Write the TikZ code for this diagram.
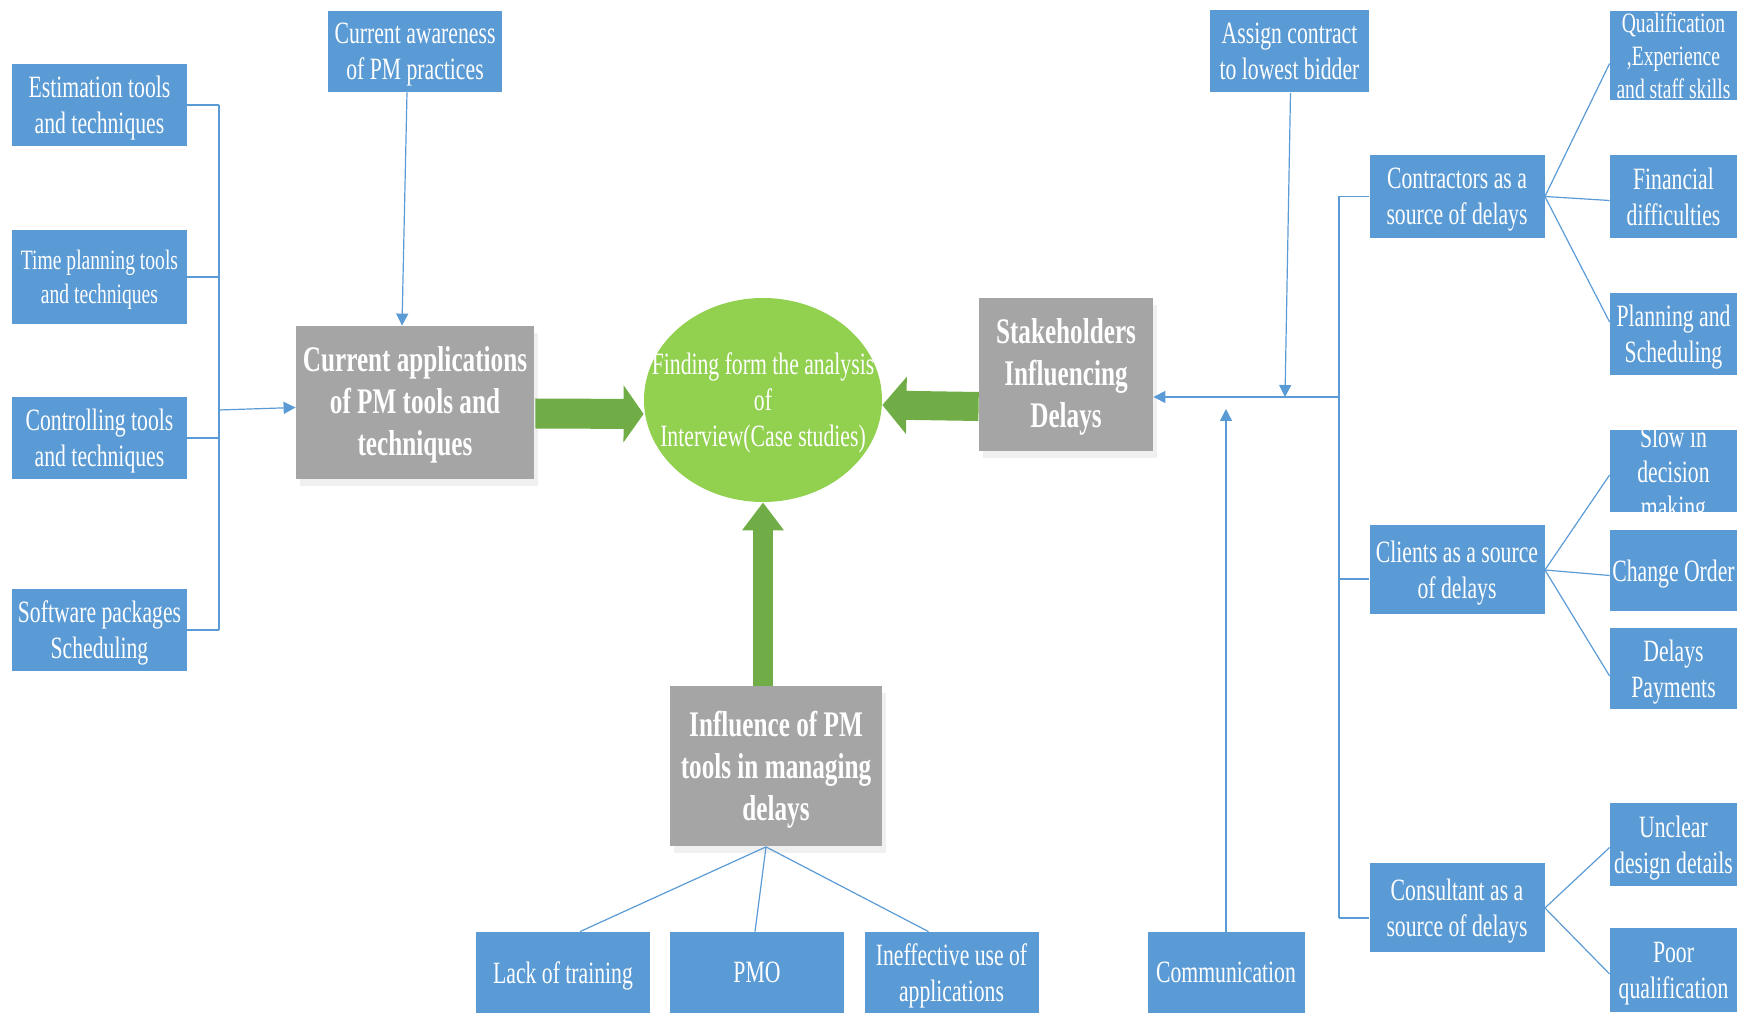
\documentclass[tikz,border=0pt]{standalone}
\usepackage{fontspec}
\setmainfont{Liberation Serif}[FakeStretch=0.7]
\usetikzlibrary{arrows.meta,calc,shapes.geometric,shadows}
\definecolor{boxblue}{HTML}{5B9BD5}
\definecolor{linkblue}{HTML}{5B9BD5}
\definecolor{boxgray}{HTML}{A5A5A5}
\definecolor{findgreen}{HTML}{92D050}
\definecolor{arrowgreen}{HTML}{70AD47}

\begin{document}
\begin{tikzpicture}[x=0.5pt, y=-0.5pt, >={Triangle[length=6pt,width=6pt]},
  tbox/.style={fill=boxblue, text=white, align=center, inner sep=0pt, minimum width=87.5pt, minimum height=41pt, font=\fontsize{15.5pt}{18pt}\selectfont, text depth=-0.5pt},
  rbox/.style={tbox, minimum width=63.5pt},
  gbox/.style={fill=boxgray, text=white, align=center, inner sep=0pt, font=\bfseries\fontsize{18pt}{21pt}\selectfont, text depth=1pt, drop shadow={fill=black!6, opacity=1, shadow xshift=2pt, shadow yshift=-3.5pt}},
  link/.style={draw=linkblue, line width=0.6pt},
  fat/.style={arrowgreen, line width=#1}]
\useasboundingbox (0,0) rectangle (1742,1015);

% left: tools and techniques
\node[tbox] (est)  at (99.5,105) {Estimation tools\\and techniques};
\node[tbox, minimum height=47pt, font=\fontsize{14pt}{17pt}\selectfont] (time) at (99.5,277) {Time planning tools\\and techniques};
\node[tbox] (ctrl) at (99.5,438) {Controlling tools\\and techniques};
\node[tbox] (soft) at (99.5,630) {Software packages\\Scheduling};
\node[tbox, minimum width=87pt, minimum height=40.5pt] (aw) at (415,51.5) {Current awareness\\of PM practices};
\node[gbox, minimum width=119pt, minimum height=76.5pt] (app) at (415,402.5) {Current applications\\of PM tools and\\techniques};

% centre
\node[ellipse, fill=findgreen, minimum width=119pt, minimum height=102pt, inner sep=0pt] (find) at (763,400) {};
\node[text=white, align=center, inner sep=0pt, font=\fontsize{15.5pt}{18pt}\selectfont, text depth=-1.2pt] (findtxt) at (find) {Finding form the analysis\\of\\Interview(Case studies)};
\node[gbox, minimum width=87pt, minimum height=76.5pt] (stake) at (1066,374.5) {Stakeholders\\Influencing\\Delays};
\node[gbox, minimum width=106pt, minimum height=80pt] (infl) at (776,766.5) {Influence of PM\\tools in managing\\delays};

% bottom
\node[tbox, minimum width=87pt, minimum height=40.5pt] (lack)  at (563,972.5) {Lack of training};
\node[tbox, minimum width=87pt, minimum height=40.5pt] (pmo)   at (757,972.5) {PMO};
\node[tbox, minimum width=87pt, minimum height=40.5pt] (ineff) at (951.5,972.5) {Ineffective use of\\applications};
\node[tbox, minimum width=78.5pt, minimum height=40.5pt] (comm) at (1226,972.5) {Communication};

% right: stakeholders
\node[tbox, minimum width=79.5pt] (assign) at (1289.5,51.5) {Assign contract\\to lowest bidder};
\node[tbox, minimum height=41.5pt] (contr)   at (1457,196.5) {Contractors as a\\source of delays};
\node[tbox, minimum height=44.5pt] (clients) at (1457,570) {Clients as a source\\of delays};
\node[tbox, minimum height=44.5pt] (consult) at (1457,908) {Consultant as a\\source of delays};

\node[rbox, minimum height=44.5pt, font=\fontsize{14pt}{16.5pt}\selectfont] (qual) at (1673.5,55.5) {Qualification\\,Experience\\and staff skills};
\node[rbox, minimum height=41.5pt] (fin)     at (1673.5,196.5) {Financial\\difficulties};
\node[rbox] (plan)    at (1673.5,334) {Planning and\\Scheduling};
\node[rbox] (slow)    at (1673.5,471) {};
\begin{scope}
  \clip (slow.south west) rectangle (slow.north east);
  \node[text=white, align=center, inner sep=0pt, font=\fontsize{15.5pt}{17.5pt}\selectfont] (slowtxt) at ($(slow)+(0,4)$) {Slow in\\decision\\making};
\end{scope}
\node[rbox, minimum height=40.5pt] (change)  at (1673.5,570.5) {Change Order};
\node[rbox, minimum height=40.5pt] (delpay)  at (1673.5,669) {Delays\\Payments};
\node[rbox, minimum height=41.5pt] (unclear) at (1673.5,844.5) {Unclear\\design details};
\node[rbox, minimum height=42pt]   (poor)    at (1673.5,970) {Poor\\qualification};

% left connectors
\coordinate (lsp) at (219,410);
\draw[link] (est.east -| lsp) -- (soft.east -| lsp);
\foreach \b in {est,time,ctrl,soft}
  \draw[link] (\b.east) -- (\b.east -| lsp);
\draw[link,->] (lsp) -- ($(app.west)+(0,5)$);
\draw[link,->] ($(aw.south)+(-8,0)$) -- ($(app.north)+(-13,0)$);

% green arrows into the finding
\draw[fat=15pt, -{Triangle[length=10pt,width=28pt]}] ($(app.east)+(1,11)$) -- ($(find.west)+(0,14)$);
\draw[fat=14.5pt, -{Triangle[length=12pt,width=28pt]}] ($(stake.west)+(0,32)$) -- ($(find.east)+(0,5)$);
\draw[fat=10pt, -{Triangle[length=14pt,width=20pt]}] ($(infl.north)+(-13,0)$) -- (find.south);

% influence fan
\foreach \t/\d in {lack/17, pmo/-2, ineff/-23}
  \draw[link] ($(infl.south)+(-10,0)$) -- ($(\t.north)+(\d,0)$);

% right connectors
\coordinate (rsp) at (1339,397);
\coordinate (aj) at (1285,397);
\coordinate (cj) at (1226,409);
\draw[link] (contr.west -| rsp) -- ($(consult.west -| rsp)+(0,10)$);
\draw[link] (contr.west) -- (contr.west -| rsp);
\draw[link] ($(clients.west)+(0,9)$) -- ($(clients.west -| rsp)+(0,9)$);
\draw[link] ($(consult.west)+(0,10)$) -- ($(consult.west -| rsp)+(0,10)$);
\draw[link,->] (rsp) -- (stake.east |- rsp);
\draw[link,->] ($(assign.south)+(1,0)$) -- (aj);
\draw[link,->] (comm.north) -- (cj);
\foreach \s/\t/\d in {contr/qual/8, contr/fin/4, contr/plan/-12, clients/slow/4, clients/change/5, clients/delpay/7, consult/unclear/3, consult/poor/4}
  \draw[link] (\s.east) -- ($(\t.west)+(0,\d)$);
\end{tikzpicture}
\end{document}
